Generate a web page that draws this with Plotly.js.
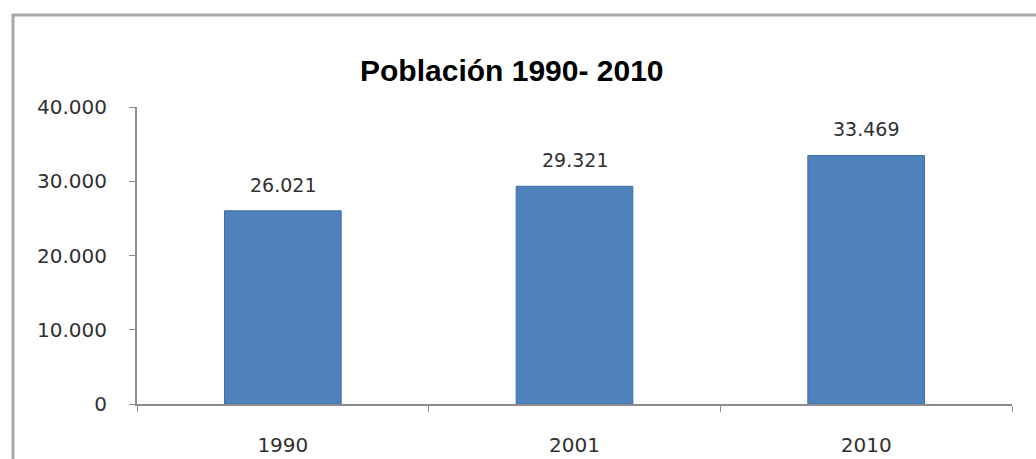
<!DOCTYPE html>
<html>
<head>
<meta charset="utf-8">
<script src="https://cdn.plot.ly/plotly-3.0.1.min.js"></script>
<style>
  html, body { margin: 0; padding: 0; background: #fff; }
  #chart { width: 1036px; height: 459px; }
</style>
</head>
<body>
<div id="chart"></div>
<script>
const categories = ['1990', '2001', '2010'];
const poblacion = [26021, 29321, 33469];
const labelTexts = ['26.021', '29.321', '33.469'];
const yTickVals = [0, 10000, 20000, 30000, 40000];
const yTickText = ['0', '10.000', '20.000', '30.000', '40.000'];
const titleText = 'Población 1990- 2010';

const W = 1036, H = 459;
const M = { l: 137, r: 24, t: 107, b: 55 };
const plotW = W - M.l - M.r, plotH = H - M.t - M.b;
const px2x = p => (p - M.l) / plotW;
const px2y = p => (H - M.b - p) / plotH;

const trace = {
  type: 'bar',
  x: categories,
  y: poblacion,
  marker: { color: '#4F81BD', line: { color: '#3F6FA8', width: 1 } },
  hoverinfo: 'x+y'
};

// category axis: annotations placed by category index
const annotations = categories.map((c, i) => ({
  x: i, y: poblacion[i], xref: 'x', yref: 'y',
  text: labelTexts[i], showarrow: false,
  yanchor: 'bottom', yshift: 13,
  font: { family: 'DejaVu Sans', size: 19, color: '#303030' }
}));

const layout = {
  width: W, height: H,
  margin: M,
  paper_bgcolor: '#ffffff',
  plot_bgcolor: '#ffffff',
  showlegend: false,
  bargap: 0.6,
  title: {
    text: '<b>' + titleText + '</b>',
    xref: 'container', yref: 'container',
    x: 0.494, y: 1 - 70 / H, xanchor: 'center', yanchor: 'middle',
    font: { family: '"Liberation Sans Narrow", "Arial Narrow", "Liberation Sans", Arial, sans-serif', size: 30, color: '#000' }
  },
  xaxis: {
    type: 'category',
    categoryorder: 'array', categoryarray: categories,
    range: [-0.5, categories.length - 0.5],
    showline: true, linecolor: '#8C8C8C', linewidth: 2,
    ticks: 'outside', tickson: 'boundaries', ticklen: 6, tickcolor: '#8C8C8C', tickwidth: 1,
    ticklabelstandoff: 22, tickangle: 0,
    showgrid: false, zeroline: false,
    tickfont: { family: 'DejaVu Sans', size: 20, color: '#303030' }
  },
  yaxis: {
    range: [0, 40000],
    tickmode: 'array', tickvals: yTickVals, ticktext: yTickText,
    showline: true, linecolor: '#8C8C8C', linewidth: 2,
    ticks: 'outside', ticklen: 6, tickcolor: '#8C8C8C', tickwidth: 1,
    ticklabelstandoff: 18,
    showgrid: false, zeroline: false,
    tickfont: { family: 'DejaVu Sans', size: 20, color: '#303030' }
  },
  annotations: annotations,
  shapes: [{
    type: 'rect', xref: 'paper', yref: 'paper',
    x0: px2x(13), x1: px2x(1045), y0: px2y(470), y1: px2y(15),
    line: { color: '#A8A8A8', width: 3 }, fillcolor: 'rgba(0,0,0,0)',
    layer: 'above'
  }]
};

Plotly.newPlot('chart', [trace], layout, { displayModeBar: false, staticPlot: true });
</script>
</body>
</html>
